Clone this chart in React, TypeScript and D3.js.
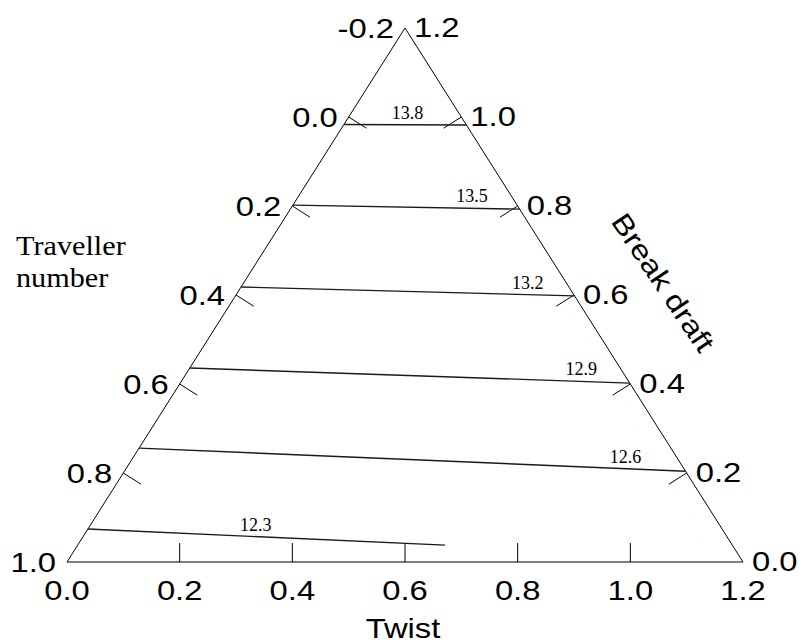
import React from 'react';
import * as d3 from 'd3';

// axis tick values (pseudo-components, twist + traveller + break draft = 1)
const twistTicks = [0.0, 0.2, 0.4, 0.6, 0.8, 1.0, 1.2];
const travellerTicks = [-0.2, 0.0, 0.2, 0.4, 0.6, 0.8, 1.0];
const breakDraftTicks = [1.2, 1.0, 0.8, 0.6, 0.4, 0.2, 0.0];

// major contour lines: start on the Traveller edge (twist = 0), end point given as (twist, break draft)
const contourLevels = [13.8, 13.5, 13.2, 12.9, 12.6, 12.3];
const contourStartBreakDraft = [0.983, 0.802, 0.618, 0.436, 0.256, 0.074];
const contourEndTwist = [0.218, 0.407, 0.602, 0.798, 0.996, 0.652];
const contourEndBreakDraft = [0.982, 0.793, 0.598, 0.402, 0.204, 0.038];

// faint dotted minor contours (edge to edge)
const minorStartBreakDraft = [
  1.12, 1.074, 1.029,
  0.938, 0.892, 0.847,
  0.756, 0.71, 0.664,
  0.572, 0.527, 0.481,
  0.391, 0.346, 0.301,
  0.202, 0.16, 0.117,
];
const minorEndBreakDraft = [
  1.119, 1.073, 1.027,
  0.935, 0.887, 0.84,
  0.744, 0.695, 0.647,
  0.549, 0.5, 0.451,
  0.353, 0.303, 0.254,
  0.155, 0.105, 0.055,
];

const W = 801, H = 643;
const apex = { x: 405, y: 28 };
const left = { x: 67, y: 562 };
const right = { x: 743, y: 562 };

const frac = d3.scaleLinear().domain([0, 1.2]).range([0, 1]);
const twistX = d3.scaleLinear().domain([0, 1.2]).range([left.x, right.x]);

// (twist, breakDraft) -> pixel
function project(twist: number, bd: number): [number, number] {
  const trav = 1 - twist - bd;
  const a = frac(trav + 0.2), b = frac(bd), c = frac(twist);
  return [a * left.x + b * apex.x + c * right.x, a * left.y + b * apex.y + c * right.y];
}

const SANS = '"Liberation Sans", Arial, sans-serif';
const SERIF = '"Liberation Serif", "Times New Roman", serif';
const STRETCH = 1.17;

function Label({ x, y, text, anchor = 'middle', size = 28, family = SANS, sx = STRETCH }: any) {
  return (
    <g transform={`translate(${x},${y}) scale(${sx},1)`}>
      <text textAnchor={anchor} fontFamily={family} fontSize={size} fill="#000">{text}</text>
    </g>
  );
}

export default function App() {
  const line = d3.line<[number, number]>();
  const tickLen = 21;
  const lx = right.x - apex.x, ly = right.y - apex.y;
  const len = Math.hypot(lx, ly);
  // inward normals of left and right edges
  const nLeft = [ (left.y - apex.y) / len, (apex.x - left.x) / len ];
  const nRight = [ -ly / len, lx / len ];
  const labelT = [0.52, 0.79, 0.86, 0.89, 0.89, 0.47];

  return (
    <svg width={W} height={H} style={{ position: 'absolute', left: 0, top: 0, background: '#fff' }}>
      {/* minor dotted contours */}
      <g stroke="#a8a8a8" strokeWidth={1} strokeDasharray="1,3" fill="none">
        {minorStartBreakDraft.map((bd, i) => {
          const p0 = project(0, bd);
          const p1 = project(1.2 - minorEndBreakDraft[i], minorEndBreakDraft[i]);
          const a = d3.interpolateArray(p0, p1);
          return <path key={i} d={line([a(0.06) as [number, number], a(0.96) as [number, number]]) || ''} />;
        })}
      </g>

      {/* triangle */}
      <path
        d={line([[apex.x, apex.y], [left.x, left.y], [right.x, right.y]]) + 'Z'}
        fill="none" stroke="#000" strokeWidth={1}
      />

      {/* ticks */}
      <g stroke="#000" strokeWidth={1}>
        {twistTicks.slice(1, -1).map((t) => (
          <line key={'b' + t} x1={twistX(t)} x2={twistX(t)} y1={left.y} y2={left.y - tickLen + 2} />
        ))}
        {travellerTicks.slice(1, -1).map((v) => {
          const [x, y] = project(0, 1 - v);
          return <line key={'l' + v} x1={x} y1={y} x2={x + nLeft[0] * tickLen} y2={y + nLeft[1] * tickLen} />;
        })}
        {breakDraftTicks.slice(1, -1).map((v) => {
          const [x, y] = project(1.2 - v, v);
          return <line key={'r' + v} x1={x} y1={y} x2={x + nRight[0] * tickLen} y2={y + nRight[1] * tickLen} />;
        })}
      </g>

      {/* major contours */}
      <g stroke="#1a1a1a" strokeWidth={1.4} fill="none">
        {contourLevels.map((lv, i) => (
          <path key={lv} d={line([project(0, contourStartBreakDraft[i]), project(contourEndTwist[i], contourEndBreakDraft[i])]) || ''} />
        ))}
      </g>
      {contourLevels.map((lv, i) => {
        const p0 = project(0, contourStartBreakDraft[i]);
        const p1 = project(contourEndTwist[i], contourEndBreakDraft[i]);
        const p = d3.interpolateArray(p0, p1)(labelT[i]) as number[];
        return (
          <text key={'t' + lv} x={p[0]} y={p[1] - 6} textAnchor="middle" fontFamily={SERIF} fontSize={18} fill="#000">
            {lv.toFixed(1)}
          </text>
        );
      })}

      {/* tick labels */}
      {twistTicks.map((t) => (
        <Label key={'bt' + t} x={twistX(t)} y={left.y + 38} text={t.toFixed(1)} />
      ))}
      {travellerTicks.map((v) => {
        const [x, y] = project(0, 1 - v);
        return <Label key={'lt' + v} x={x - 11} y={y + 10} text={v.toFixed(1)} anchor="end" />;
      })}
      {breakDraftTicks.map((v) => {
        const [x, y] = project(1.2 - v, v);
        return <Label key={'rt' + v} x={x + 9} y={y + 9} text={v.toFixed(1)} anchor="start" />;
      })}

      {/* axis titles */}
      <Label x={403} y={638} text="Twist" size={28} />
      <g transform="translate(655,288) rotate(56)">
        <Label x={0} y={0} text="Break draft" size={28} />
      </g>
      <Label x={16} y={255} text="Traveller" anchor="start" size={27} family={SERIF} sx={1.12} />
      <Label x={16} y={287} text="number" anchor="start" size={27} family={SERIF} sx={1.12} />
    </svg>
  );
}
